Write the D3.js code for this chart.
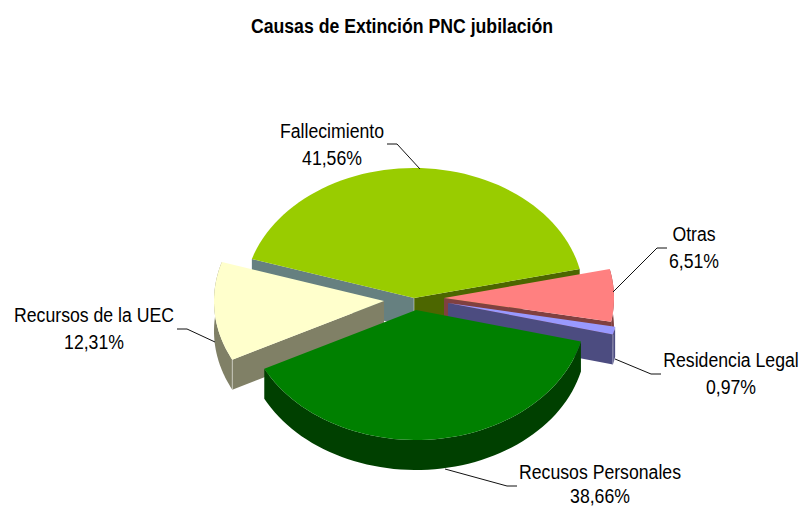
<!DOCTYPE html>
<html><head><meta charset="utf-8">
<script src="https://cdn.jsdelivr.net/npm/d3@7"></script>
<style>html,body{margin:0;background:#fff}svg{display:block}text{font-family:"Liberation Sans",Arial,sans-serif;fill:#000}</style>
</head><body><script>
const title = "Causas de Extinción PNC jubilación";
const categories = ["Fallecimiento","Otras","Residencia Legal","Recusos Personales","Recursos de la UEC"];
const percents = [41.56,6.51,0.97,38.66,12.31];
const topColors = ["#99CC00","#FF8080","#9999FF","#008000","#FFFFCC"];
const wallColors = ["#4C6600","#804040","#4C4C80","#004000","#808066"];
const explodeX = [0,30,34,2,-30];
const explodeY = [0,0,5,12,3];
const labelX = [332,694,731,600,94];
const labelY = [138,241,367,479,322];
const leaders = [
 [[387,144],[397,144],[420,169]],
 [[667,248],[657,248],[613,292]],
 [[661,374],[651,374],[615,359]],
 [[517,486],[507,486],[445,469]],
 [[177,329],[187,329],[215,342]]
];
const W=801,H=507,cx=414,cy=298,rx=170,ry=130,depth=30,startDeg=-72.5,squeeze=0.883;

const svg=d3.select("body").append("svg").attr("width",W).attr("height",H);
svg.append("g").attr("transform",`translate(402,33) scale(${squeeze},1)`).append("text").attr("text-anchor","middle").attr("font-size",20).attr("font-weight","bold").text(title);

const arcs=d3.pie().sort(null).startAngle(startDeg*Math.PI/180).endAngle(startDeg*Math.PI/180+2*Math.PI).value(d=>d)(percents);
const sx=d3.scaleLinear().domain([0,1]).range([0,rx]);
const sy=d3.scaleLinear().domain([0,1]).range([0,ry]);
const pt=(i,a,dz=0)=>[cx+explodeX[i]+sx(Math.sin(a)),cy+explodeY[i]-sy(Math.cos(a))+dz];
const arcPts=(i,a0,a1,dz)=>d3.range(0,61).map(k=>pt(i,a0+(a1-a0)*k/60,dz));
const line=d3.line();
const apex=(i,dz=0)=>[cx+explodeX[i],cy+explodeY[i]+dz];
const g=svg.append("g");
function radialWall(i,a,fill){
  g.append("path").attr("d",line([apex(i),pt(i,a),pt(i,a,depth),apex(i,depth)])+"Z").attr("fill",fill);
}
function outerWall(i,fill){
  const d=arcs[i];
  const top=arcPts(i,d.startAngle,d.endAngle,0), bot=arcPts(i,d.startAngle,d.endAngle,depth).reverse();
  g.append("path").attr("d",line(top.concat(bot))+"Z").attr("fill",fill);
}
function topFace(i){
  const d=arcs[i];
  g.append("path").attr("d",line([apex(i)].concat(arcPts(i,d.startAngle,d.endAngle,0)))+"Z").attr("fill",topColors[i]);
}
function edge(i,p,q){g.append("line").attr("x1",p[0]).attr("y1",p[1]).attr("x2",q[0]).attr("y2",q[1]).attr("stroke","#fff").attr("stroke-opacity",.45);}
// Fallecimiento
radialWall(0,arcs[0].startAngle,"#668080");
radialWall(0,arcs[0].endAngle,wallColors[0]);
edge(0,apex(0),apex(0,depth));
topFace(0);
// Otras
outerWall(1,wallColors[1]);
radialWall(1,arcs[1].endAngle,wallColors[1]);
topFace(1);
// Residencia
outerWall(2,wallColors[2]);
radialWall(2,arcs[2].endAngle,wallColors[2]);
edge(2,pt(2,arcs[2].endAngle),pt(2,arcs[2].endAngle,depth));
topFace(2);
// UEC
outerWall(4,wallColors[4]);
radialWall(4,arcs[4].startAngle,wallColors[4]);
edge(4,pt(4,arcs[4].startAngle),pt(4,arcs[4].startAngle,depth));
topFace(4);
// Recusos
outerWall(3,wallColors[3]);
topFace(3);

leaders.forEach(l=>svg.append("path").attr("d",line(l)).attr("fill","none").attr("stroke","#111").attr("stroke-width",1));
categories.forEach((c,i)=>{
  const t=svg.append("g").attr("transform",`translate(${labelX[i]},0) scale(${squeeze},1)`).append("text").attr("text-anchor","middle").attr("font-size",20);
  t.append("tspan").attr("x",0).attr("y",labelY[i]).text(c);
  t.append("tspan").attr("x",0).attr("y",Math.min(labelY[i]+27.5,503)).text(percents[i].toFixed(2).replace(".",",")+"%");
});
</script></body></html>
